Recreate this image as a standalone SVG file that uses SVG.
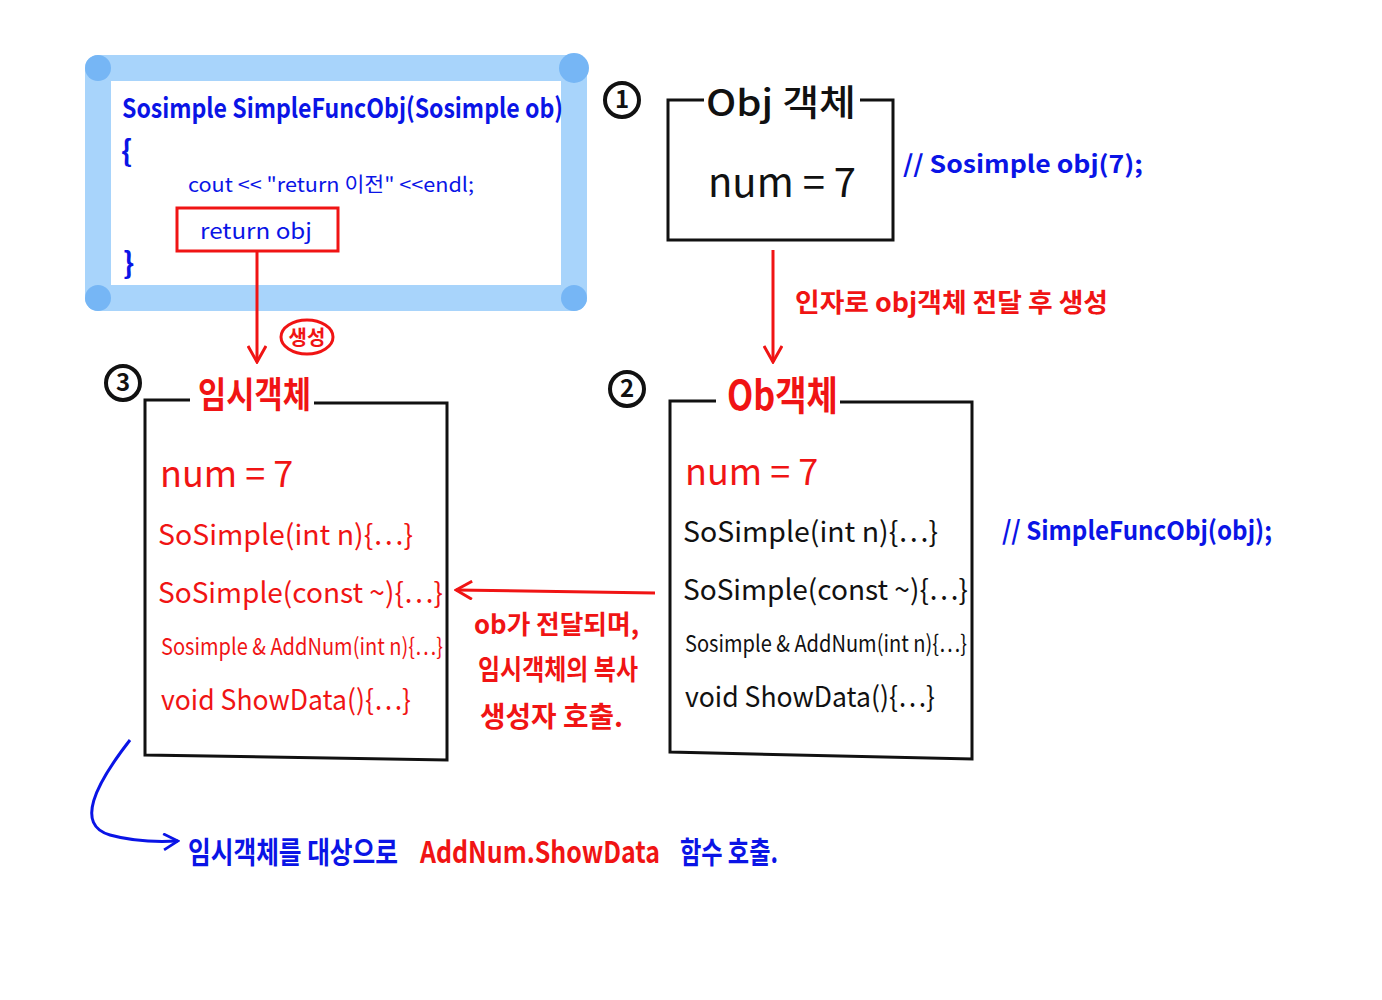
<svg xmlns="http://www.w3.org/2000/svg" width="1382" height="1000" viewBox="0 0 1382 1000">
<defs>
<style>
text{font-family:"Noto Sans CJK KR","Noto Sans",sans-serif;}
.blue{fill:#0a14e6;font-weight:bold;}
.red{fill:#f01414;font-weight:bold;}
.redn{fill:#f01414;}
.blk{fill:#111;}
.box{fill:none;stroke:#111;stroke-width:3;}
.rl{fill:none;stroke:#f01414;stroke-width:3;}
.bl{fill:none;stroke:#0a14e6;stroke-width:3;}
.num{fill:none;stroke:#111;stroke-width:4;}
.numt{fill:#111;font-weight:bold;font-size:24px;}
</style>
<marker id="ahR" viewBox="0 0 20 20" refX="18" refY="10" markerWidth="20" markerHeight="20" markerUnits="userSpaceOnUse" orient="auto">
<path d="M2 1 L18 10 L2 19" fill="none" stroke="#f01414" stroke-width="3"/>
</marker>
<marker id="ahB" viewBox="0 0 20 20" refX="18" refY="10" markerWidth="18" markerHeight="18" markerUnits="userSpaceOnUse" orient="auto">
<path d="M2 1 L18 10 L2 19" fill="none" stroke="#0a14e6" stroke-width="3"/>
</marker>
</defs>
<rect width="1382" height="1000" fill="#fff"/>

<g id="code-block">
<rect x="98" y="68" width="476" height="230" fill="none" stroke="#a8d4fb" stroke-width="26" stroke-linejoin="round"/>
<circle cx="98" cy="68" r="13" fill="#76b6f5"/>
<circle cx="574" cy="68" r="15" fill="#76b6f5"/>
<circle cx="98" cy="298" r="13" fill="#76b6f5"/>
<circle cx="574" cy="298" r="13" fill="#76b6f5"/>
<text class="blue" x="122" y="118" font-size="27" textLength="441" lengthAdjust="spacingAndGlyphs">Sosimple SimpleFuncObj(Sosimple ob)</text>
<text class="blue" x="121" y="162" font-size="30">{</text>
<text class="blue" x="188" y="192" font-size="20" textLength="286" lengthAdjust="spacingAndGlyphs" style="font-weight:normal">cout &lt;&lt; "return 이전" &lt;&lt;endl;</text>
<rect x="177" y="208" width="161" height="43" fill="none" stroke="#f01414" stroke-width="3"/>
<text class="blue" x="200" y="239" font-size="22" style="font-weight:normal" textLength="112" lengthAdjust="spacingAndGlyphs">return obj</text>
<text class="blue" x="123" y="274" font-size="30">}</text>
</g>

<g id="obj1">
<circle class="num" cx="622" cy="100" r="17"/>
<text class="numt" x="622" y="108" text-anchor="middle">1</text>
<path class="box" d="M704 100 H668 V240 H893 V100 H860"/>
<text class="blk" x="706" y="116" font-size="36" font-weight="500" textLength="150" lengthAdjust="spacingAndGlyphs">Obj 객체</text>
<text class="blk" x="782" y="197" font-size="40" text-anchor="middle">num = 7</text>
<text class="blue" x="903" y="173" font-size="24" textLength="240" lengthAdjust="spacingAndGlyphs">// Sosimple obj(7);</text>
</g>

<g id="obj2">
<circle class="num" cx="627" cy="389" r="17"/>
<text class="numt" x="627" y="397" text-anchor="middle">2</text>
<path class="box" d="M716 401 H670 V752 L972 759 V402 H840"/>
<text class="red" x="727" y="410" font-size="40" textLength="111" lengthAdjust="spacingAndGlyphs">Ob객체</text>
<text class="redn" x="685" y="485" font-size="36">num = 7</text>
<text class="blk" x="683" y="542" font-size="28" textLength="255" lengthAdjust="spacingAndGlyphs">SoSimple(int n){…}</text>
<text class="blk" x="683" y="600" font-size="28" textLength="285" lengthAdjust="spacingAndGlyphs">SoSimple(const ~){…}</text>
<text class="blk" x="685" y="652" font-size="23" textLength="282" lengthAdjust="spacingAndGlyphs">Sosimple &amp; AddNum(int n){…}</text>
<text class="blk" x="685" y="707" font-size="28" textLength="250" lengthAdjust="spacingAndGlyphs">void ShowData(){…}</text>
<text class="blue" x="1002" y="540" font-size="26" textLength="270" lengthAdjust="spacingAndGlyphs">// SimpleFuncObj(obj);</text>
</g>

<g id="temp3">
<circle class="num" cx="123" cy="383" r="17"/>
<text class="numt" x="123" y="391" text-anchor="middle">3</text>
<path class="box" d="M190 400 H145 V755 L447 760 V403 H314"/>
<text class="red" x="198" y="408" font-size="36" textLength="113" lengthAdjust="spacingAndGlyphs">임시객체</text>
<text class="redn" x="160" y="487" font-size="36">num = 7</text>
<text class="redn" x="158" y="545" font-size="28" textLength="255" lengthAdjust="spacingAndGlyphs">SoSimple(int n){…}</text>
<text class="redn" x="158" y="603" font-size="28" textLength="285" lengthAdjust="spacingAndGlyphs">SoSimple(const ~){…}</text>
<text class="redn" x="161" y="655" font-size="23" textLength="282" lengthAdjust="spacingAndGlyphs">Sosimple &amp; AddNum(int n){…}</text>
<text class="redn" x="161" y="710" font-size="28" textLength="250" lengthAdjust="spacingAndGlyphs">void ShowData(){…}</text>
</g>

<g id="connectors">
<line class="rl" x1="257" y1="252" x2="257" y2="362" marker-end="url(#ahR)"/>
<line class="rl" x1="773" y1="250" x2="773" y2="362" marker-end="url(#ahR)"/>
<line class="rl" x1="655" y1="593" x2="456" y2="590" marker-end="url(#ahR)"/>
<path class="bl" d="M130 740 C95 785 75 825 110 835 C135 842 160 842 178 841" marker-end="url(#ahB)"/>
</g>

<g id="labels">
<ellipse cx="307" cy="337" rx="26" ry="17" fill="none" stroke="#f01414" stroke-width="3"/>
<text class="red" x="307" y="345" font-size="20" text-anchor="middle">생성</text>
<text class="red" x="795" y="312" font-size="26" textLength="313" lengthAdjust="spacingAndGlyphs">인자로 obj객체 전달 후 생성</text>
<text class="red" x="474" y="634" font-size="26" textLength="165" lengthAdjust="spacingAndGlyphs">ob가 전달되며,</text>
<text class="red" x="478" y="680" font-size="28" textLength="160" lengthAdjust="spacingAndGlyphs">임시객체의 복사</text>
<text class="red" x="480" y="727" font-size="28" textLength="143" lengthAdjust="spacingAndGlyphs">생성자 호출.</text>
<text class="blue" x="188" y="863" font-size="30" textLength="210" lengthAdjust="spacingAndGlyphs">임시객체를 대상으로</text>
<text class="red" x="420" y="863" font-size="30" textLength="240" lengthAdjust="spacingAndGlyphs">AddNum.ShowData</text>
<text class="blue" x="680" y="863" font-size="30" textLength="98" lengthAdjust="spacingAndGlyphs">함수 호출.</text>
</g>
</svg>
